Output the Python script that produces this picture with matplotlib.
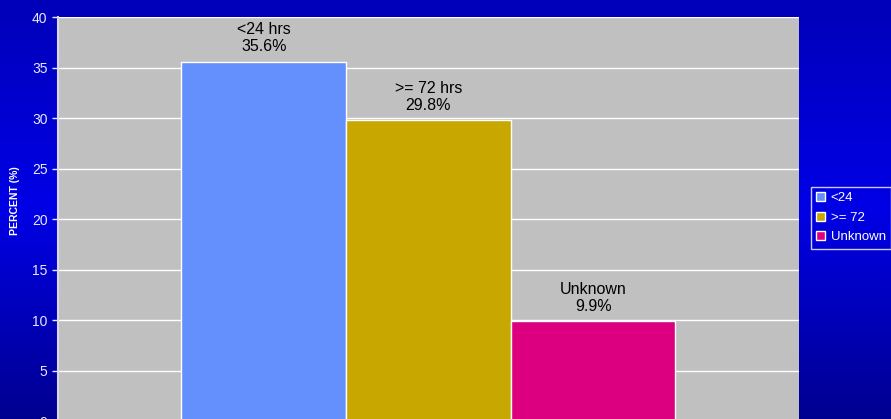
import numpy as np
import matplotlib
matplotlib.use('Agg')
from matplotlib import pyplot as plt
from matplotlib.colors import LinearSegmentedColormap

plt.rcParams['font.family'] = ['Liberation Sans', 'DejaVu Sans']

series = ['<24', '>= 72', 'Unknown']
bar_labels = ['<24 hrs', '>= 72 hrs', 'Unknown']
values = [35.6, 29.8, 9.9]
colors = ['#6390fc', '#c8a800', '#dc0080']

fig = plt.figure(figsize=(8.91, 4.19), dpi=100)

# blue gradient background
bg = fig.add_axes([0, 0, 1, 1], zorder=-10)
grad = LinearSegmentedColormap.from_list('bg', ['#000090', '#0000e6', '#0000b8'])
bg.imshow(np.linspace(0, 1, 256).reshape(-1, 1), aspect='auto', cmap=grad,
          origin='lower', extent=[0, 1, 0, 1])
bg.axis('off')

ax = fig.add_axes([0.0651, -0.006, 0.8316, 0.9654])
ax.set_facecolor('#c0c0c0')
ax.set_axisbelow(True)

bars = []
for i, (name, v, c) in enumerate(zip(series, values, colors)):
    b = ax.bar(i, v, width=1.0, color=c, edgecolor='white', linewidth=1, label=name)
    bars.append(b)
    ax.text(i, v + 0.7, f'{bar_labels[i]}\n{v}%', ha='center', va='bottom',
            fontsize=11.5, color='black', linespacing=1.2)

ax.set_xlim(-1.25, 3.25)
ax.set_ylim(0, 40)
ax.set_yticks(np.arange(0, 41, 5))
ax.set_xticks([])
ax.yaxis.grid(True, color='white', linewidth=1)
ax.tick_params(axis='y', colors='#e8e8ff', labelsize=10, length=4, width=1, direction='out')
for s in ['top', 'right', 'bottom']:
    ax.spines[s].set_visible(False)
ax.spines['left'].set_color('#d8d8e8')
ax.spines['left'].set_linewidth(1.5)

fig.text(0.017, 0.52, 'PERCENT (%)', rotation=90, ha='center', va='center',
         color='white', fontsize=7.5, fontweight='bold')

leg = fig.legend(handles=[b[0] for b in bars], labels=series,
                 loc='upper left', bbox_to_anchor=(0.910, 0.554),
                 frameon=True, fontsize=9.5, handlelength=0.7, handleheight=0.7,
                 handletextpad=0.4, labelspacing=0.55, borderpad=0.4,
                 borderaxespad=0, fancybox=False)
leg.get_frame().set_facecolor('none')
leg.get_frame().set_edgecolor('white')
leg.get_frame().set_linewidth(1)
for t in leg.get_texts():
    t.set_color('white')

fig.savefig('out.png', dpi=100)
